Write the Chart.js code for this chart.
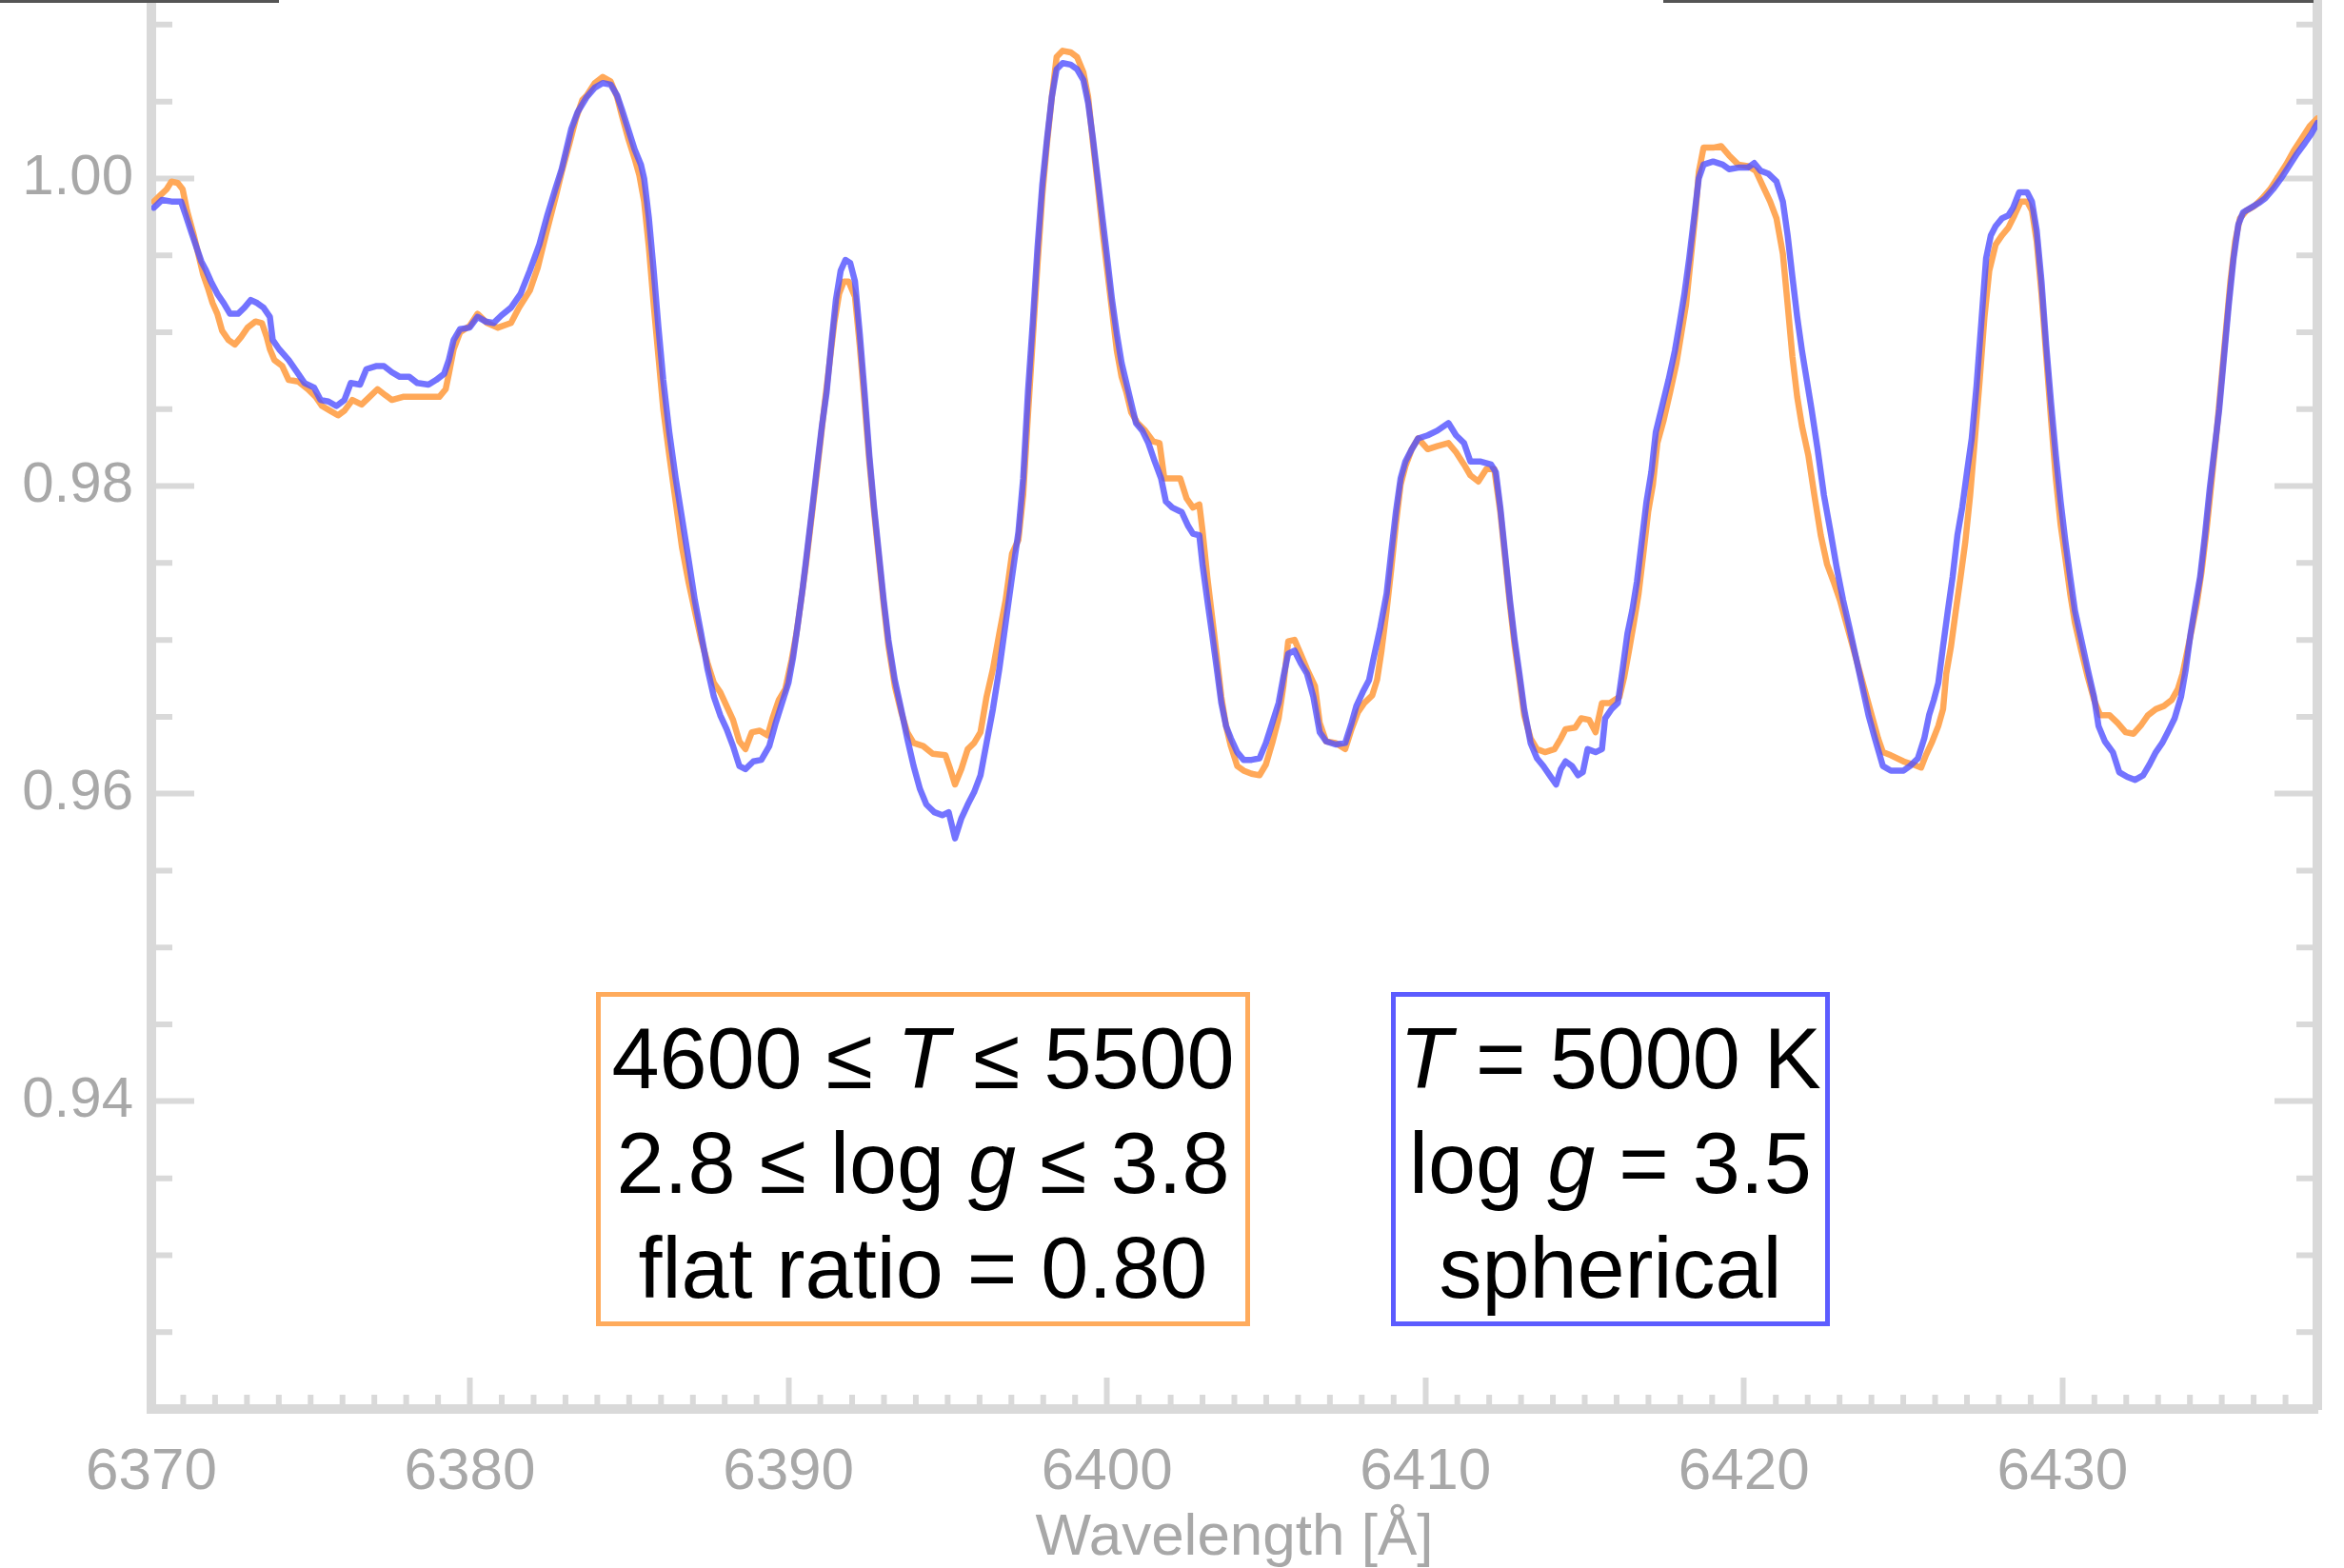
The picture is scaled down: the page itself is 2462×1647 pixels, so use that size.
<!DOCTYPE html>
<html>
<head>
<meta charset="utf-8">
<title>Spectrum 6370-6438 Å</title>
<script src="https://cdn.jsdelivr.net/npm/chart.js@4.4.1/dist/chart.umd.min.js"></script>
<style>
  html, body { margin: 0; padding: 0; background: #fff; }
  #wrap { position: relative; width: 2462px; height: 1647px; overflow: hidden; }
  #spectrum { display: block; }
  .rule { position: absolute; top: 0; height: 3px; background: #555; }
  .key {
    position: absolute; top: 1042px; height: 351px;
    box-sizing: border-box; border: 5px solid; padding-top: 10px;
    font: 90px/110px "Liberation Sans", Arial, sans-serif;
    text-align: center; color: #000; white-space: nowrap; background: #fff;
  }
</style>
</head>
<body>
<div id="wrap">
  <canvas id="spectrum" width="2462" height="1647"></canvas>
  <div class="rule" style="left:0;width:293px"></div>
  <div class="rule" style="left:1747px;width:683px"></div>
  <div class="key" style="left:626px;width:687px;border-color:#ffab5c">4600 ≤ <i>T</i> ≤ 5500<br>2.8 ≤ log <i>g</i> ≤ 3.8<br>flat ratio = 0.80</div>
  <div class="key" style="left:1461px;width:461px;border-color:#5c5cff"><i>T</i> = 5000 K<br>log <i>g</i> = 3.5<br>spherical</div>
</div>
<script>
// tick labels
const waveTicks = [6370, 6380, 6390, 6400, 6410, 6420, 6430];
const fluxTicks = [0.94, 0.96, 0.98, 1.00];

// spherical model, T = 5000 K, log g = 3.5 (blue)
const spherWave = [
  6370.08, 6370.33, 6370.63, 6370.93, 6371.08, 6371.27, 6371.42, 6371.57, 6371.72, 6371.87,
  6372.07, 6372.27, 6372.47, 6372.72, 6372.92, 6373.12, 6373.32, 6373.52, 6373.72, 6373.81,
  6374.01, 6374.31, 6374.61, 6374.81, 6375.11, 6375.31, 6375.56, 6375.81, 6376.06, 6376.26,
  6376.55, 6376.75, 6377.05, 6377.30, 6377.55, 6377.80, 6378.10, 6378.35, 6378.70, 6378.94,
  6379.19, 6379.34, 6379.49, 6379.69, 6379.99, 6380.24, 6380.49, 6380.74, 6380.99, 6381.29,
  6381.59, 6381.88, 6382.18, 6382.43, 6382.68, 6382.88, 6383.03, 6383.18, 6383.38,
  6383.67, 6383.92, 6384.17, 6384.42, 6384.62, 6384.77, 6384.97, 6385.17, 6385.37, 6385.47,
  6385.62, 6385.77, 6385.92, 6386.07, 6386.26, 6386.46, 6386.66, 6386.86, 6387.06, 6387.26,
  6387.46, 6387.66, 6387.86, 6388.06, 6388.26, 6388.46, 6388.65, 6388.90, 6389.15, 6389.40,
  6389.60, 6389.80, 6390.00, 6390.15, 6390.30, 6390.45, 6390.60, 6390.75, 6390.90, 6391.05,
  6391.20, 6391.34, 6391.49, 6391.64, 6391.79, 6391.94, 6392.09, 6392.24, 6392.39, 6392.54,
  6392.69, 6392.84, 6392.99, 6393.14, 6393.34, 6393.54, 6393.73, 6393.93, 6394.13, 6394.33,
  6394.58, 6394.83, 6395.03, 6395.23, 6395.43, 6395.63, 6395.83, 6396.03, 6396.22, 6396.42,
  6396.62, 6396.82, 6397.02, 6397.22,
  6397.37, 6397.52, 6397.67, 6397.82, 6397.97, 6398.12, 6398.27, 6398.42, 6398.61, 6398.86,
  6399.06, 6399.26, 6399.41, 6399.56, 6399.71, 6399.86, 6400.01, 6400.16, 6400.31, 6400.46,
  6400.61, 6400.76, 6400.91, 6401.11, 6401.30, 6401.50, 6401.70, 6401.85, 6402.05, 6402.35,
  6402.55, 6402.70, 6402.90, 6403.00, 6403.15, 6403.30, 6403.45, 6403.59, 6403.74, 6403.89,
  6404.09, 6404.29, 6404.54, 6404.79, 6404.99, 6405.19, 6405.39, 6405.54, 6405.69, 6405.89,
  6406.08, 6406.28, 6406.48, 6406.68, 6406.88, 6407.18, 6407.48, 6407.68, 6407.83, 6408.03,
  6408.23, 6408.38, 6408.58, 6408.78, 6408.92, 6409.07, 6409.22, 6409.37, 6409.57, 6409.77,
  6410.07, 6410.37, 6410.72, 6410.96,
  6411.21, 6411.41, 6411.71, 6412.06, 6412.21, 6412.35, 6412.50, 6412.65, 6412.80, 6412.95,
  6413.10, 6413.30, 6413.50, 6413.70, 6413.90, 6414.10, 6414.25, 6414.40, 6414.60, 6414.79,
  6414.94, 6415.09, 6415.34, 6415.54, 6415.64, 6415.84, 6416.04, 6416.19, 6416.34, 6416.49,
  6416.64, 6416.79, 6416.94, 6417.09, 6417.23, 6417.43, 6417.63, 6417.83, 6417.98, 6418.13,
  6418.28, 6418.43, 6418.58, 6418.73, 6419.03, 6419.33, 6419.53, 6419.82, 6420.12, 6420.32,
  6420.52, 6420.77, 6421.02, 6421.22, 6421.37, 6421.52, 6421.67, 6421.82, 6421.97, 6422.12,
  6422.31, 6422.51, 6422.71, 6422.91, 6423.11, 6423.31, 6423.51, 6423.71, 6423.91, 6424.11,
  6424.36, 6424.61,
  6425.01, 6425.21, 6425.46, 6425.66, 6425.81, 6425.96, 6426.10, 6426.25, 6426.40, 6426.55,
  6426.70, 6426.85, 6427.00, 6427.15, 6427.30, 6427.45, 6427.60, 6427.75, 6427.90, 6428.10,
  6428.30, 6428.45, 6428.64, 6428.89, 6429.04, 6429.19, 6429.34, 6429.49, 6429.64, 6429.79,
  6429.94, 6430.09, 6430.24, 6430.39, 6430.59, 6430.79, 6430.99, 6431.13, 6431.33, 6431.58,
  6431.78, 6432.03, 6432.28, 6432.53, 6432.73, 6432.93, 6433.13, 6433.33, 6433.52, 6433.72,
  6433.87, 6434.02, 6434.17, 6434.32, 6434.47, 6434.62, 6434.77, 6434.92, 6435.07, 6435.22,
  6435.37, 6435.52, 6435.67, 6435.92, 6436.16, 6436.36, 6436.61, 6436.86, 6437.11, 6437.36,
  6437.61, 6437.81, 6438.00
];
const spherFlux = [
  0.9981, 0.9986, 0.9985, 0.9985, 0.9976, 0.9964, 0.9955, 0.9946, 0.9940, 0.9933,
  0.9925, 0.9919, 0.9912, 0.9912, 0.9916, 0.9921, 0.9919, 0.9916, 0.9910, 0.9895,
  0.9889, 0.9882, 0.9873, 0.9867, 0.9864, 0.9856, 0.9855, 0.9852, 0.9856, 0.9867,
  0.9866, 0.9876, 0.9878, 0.9878, 0.9874, 0.9871, 0.9871, 0.9867, 0.9866, 0.9869,
  0.9873, 0.9882, 0.9895, 0.9902, 0.9903, 0.9910, 0.9907, 0.9906, 0.9911, 0.9916,
  0.9925, 0.9940, 0.9957, 0.9976, 0.9993, 1.0006, 1.0019, 1.0032, 1.0043,
  1.0053, 1.0059, 1.0062, 1.0061, 1.0054, 1.0045, 1.0032, 1.0019, 1.0009, 1.0000,
  0.9974, 0.9940, 0.9903, 0.9869, 0.9835, 0.9805, 0.9779, 0.9753, 0.9726, 0.9704,
  0.9681, 0.9663, 0.9651, 0.9642, 0.9631, 0.9618, 0.9616, 0.9621, 0.9622, 0.9631,
  0.9646, 0.9659, 0.9672, 0.9689, 0.9711, 0.9734, 0.9760, 0.9786, 0.9813, 0.9839,
  0.9861, 0.9891, 0.9921, 0.9940, 0.9947, 0.9945, 0.9933, 0.9899, 0.9861, 0.9820,
  0.9786, 0.9756, 0.9726, 0.9700, 0.9674, 0.9655, 0.9636, 0.9618, 0.9603, 0.9593,
  0.9588, 0.9586, 0.9588, 0.9571, 0.9584, 0.9593, 0.9601, 0.9612, 0.9633, 0.9655,
  0.9681, 0.9711, 0.9741, 0.9770,
  0.9805, 0.9861, 0.9906, 0.9955, 0.9996, 1.0026, 1.0053, 1.0071, 1.0075, 1.0074,
  1.0071, 1.0064, 1.0049, 1.0026, 1.0000, 0.9974, 0.9948, 0.9921, 0.9899, 0.9880,
  0.9867, 0.9854, 0.9841, 0.9836, 0.9828, 0.9816, 0.9805, 0.9790, 0.9786, 0.9783,
  0.9774, 0.9769, 0.9768, 0.9749, 0.9726, 0.9704, 0.9681, 0.9659, 0.9644, 0.9636,
  0.9627, 0.9622, 0.9622, 0.9623, 0.9633, 0.9646, 0.9659, 0.9676, 0.9691, 0.9693,
  0.9685, 0.9678, 0.9663, 0.9640, 0.9634, 0.9632, 0.9633, 0.9646, 0.9657, 0.9666,
  0.9674, 0.9689, 0.9708, 0.9730, 0.9756, 0.9783, 0.9805, 0.9816, 0.9824, 0.9831,
  0.9833, 0.9836, 0.9841, 0.9833,
  0.9828, 0.9816, 0.9816, 0.9814, 0.9809, 0.9786, 0.9756, 0.9726, 0.9700, 0.9678,
  0.9655, 0.9633, 0.9623, 0.9618, 0.9612, 0.9606, 0.9616, 0.9621, 0.9618, 0.9612,
  0.9614, 0.9629, 0.9627, 0.9629, 0.9649, 0.9655, 0.9659, 0.9681, 0.9704, 0.9719,
  0.9738, 0.9764, 0.9790, 0.9809, 0.9835, 0.9852, 0.9869, 0.9888, 0.9906, 0.9925,
  0.9948, 0.9974, 1.0000, 1.0009, 1.0011, 1.0009, 1.0006, 1.0007, 1.0007, 1.0010,
  1.0005, 1.0003, 0.9998, 0.9985, 0.9963, 0.9936, 0.9910, 0.9888, 0.9869, 0.9850,
  0.9824, 0.9794, 0.9771, 0.9747, 0.9726, 0.9708, 0.9689, 0.9670, 0.9651, 0.9636,
  0.9618, 0.9615,
  0.9615, 0.9618, 0.9623, 0.9636, 0.9651, 0.9661, 0.9672, 0.9696, 0.9719, 0.9741,
  0.9768, 0.9786, 0.9809, 0.9831, 0.9865, 0.9906, 0.9948, 0.9963, 0.9969, 0.9974,
  0.9976, 0.9981, 0.9991, 0.9991, 0.9985, 0.9966, 0.9933, 0.9891, 0.9854, 0.9820,
  0.9790, 0.9764, 0.9741, 0.9719, 0.9700, 0.9681, 0.9663, 0.9644, 0.9634, 0.9627,
  0.9614, 0.9611, 0.9609, 0.9612, 0.9619, 0.9627, 0.9633, 0.9641, 0.9649, 0.9663,
  0.9681, 0.9704, 0.9723, 0.9741, 0.9768, 0.9798, 0.9824, 0.9850, 0.9884, 0.9918,
  0.9948, 0.9970, 0.9978, 0.9981, 0.9984, 0.9987, 0.9993, 1.0000, 1.0008, 1.0016,
  1.0023, 1.0029, 1.0036
];

// flat-ratio grid, 4600 <= T <= 5500, 2.8 <= log g <= 3.8 (orange)
const rangeWave = [
  6370.08, 6370.28, 6370.48, 6370.63, 6370.83, 6370.98, 6371.12, 6371.32, 6371.47, 6371.62,
  6371.77, 6371.92, 6372.07, 6372.22, 6372.42, 6372.62, 6372.82, 6373.02, 6373.27, 6373.47,
  6373.62, 6373.72, 6373.86, 6374.11, 6374.31, 6374.61, 6374.91, 6375.16, 6375.36, 6375.61,
  6375.86, 6376.06, 6376.31, 6376.60, 6376.85, 6377.10, 6377.35, 6377.55, 6377.90, 6378.30,
  6378.70, 6379.04, 6379.24, 6379.34, 6379.49, 6379.69, 6379.99, 6380.24, 6380.54, 6380.88,
  6381.29, 6381.54, 6381.88, 6382.13, 6382.38, 6382.68, 6382.88, 6383.13, 6383.33, 6383.53,
  6383.67, 6383.92, 6384.17, 6384.42, 6384.62, 6384.77, 6384.97, 6385.17, 6385.32, 6385.47,
  6385.62, 6385.77, 6385.92, 6386.07, 6386.26, 6386.46, 6386.66, 6386.86, 6387.06, 6387.26,
  6387.46, 6387.66, 6387.86, 6388.06, 6388.26, 6388.46, 6388.65, 6388.85, 6389.10, 6389.35,
  6389.50, 6389.70, 6389.90, 6390.10, 6390.25, 6390.40, 6390.55, 6390.70, 6390.85, 6391.00,
  6391.14, 6391.29, 6391.44, 6391.59, 6391.74, 6391.89, 6392.09, 6392.24, 6392.39, 6392.54,
  6392.69, 6392.84, 6392.99, 6393.14, 6393.34, 6393.54, 6393.73, 6393.93, 6394.23, 6394.53,
  6394.93, 6395.08, 6395.23, 6395.43, 6395.63, 6395.83, 6396.03, 6396.22, 6396.42, 6396.62,
  6396.82, 6397.02, 6397.22,
  6397.37, 6397.52, 6397.67, 6397.82, 6397.97, 6398.12, 6398.27, 6398.42, 6398.61, 6398.86,
  6399.06, 6399.26, 6399.41, 6399.56, 6399.71, 6399.86, 6400.01, 6400.16, 6400.31, 6400.46,
  6400.61, 6400.76, 6400.96, 6401.20, 6401.45, 6401.65, 6401.80, 6402.00, 6402.30, 6402.50,
  6402.70, 6402.90, 6403.00, 6403.15, 6403.30, 6403.45, 6403.59, 6403.74, 6403.89, 6404.09,
  6404.29, 6404.54, 6404.79, 6404.99, 6405.19, 6405.39, 6405.54, 6405.69, 6405.89, 6406.08,
  6406.28, 6406.53, 6406.68, 6406.88, 6407.18, 6407.48, 6407.68, 6407.88, 6408.08, 6408.33,
  6408.48, 6408.62, 6408.78, 6408.92, 6409.07, 6409.22, 6409.37, 6409.57, 6409.77, 6410.07,
  6410.37, 6410.72, 6410.96,
  6411.21, 6411.41, 6411.66, 6411.91, 6412.16, 6412.35, 6412.50, 6412.65, 6412.80, 6412.95,
  6413.10, 6413.30, 6413.50, 6413.75, 6414.05, 6414.25, 6414.40, 6414.70, 6414.89, 6415.14,
  6415.34, 6415.54, 6415.79, 6416.09, 6416.24, 6416.39, 6416.54, 6416.69, 6416.84, 6416.99,
  6417.14, 6417.28, 6417.48, 6417.68, 6417.88, 6418.03, 6418.18, 6418.33, 6418.48, 6418.58,
  6418.73, 6419.03, 6419.28, 6419.53, 6419.82, 6420.12, 6420.37, 6420.57, 6420.82, 6421.02,
  6421.22, 6421.37, 6421.52, 6421.67, 6421.82, 6422.02, 6422.21, 6422.41, 6422.61, 6422.81,
  6423.01, 6423.21, 6423.41, 6423.61, 6423.81, 6424.01, 6424.21, 6424.36, 6424.61,
  6425.01, 6425.31, 6425.56, 6425.71, 6425.91, 6426.10, 6426.25, 6426.35, 6426.50, 6426.65,
  6426.80, 6426.95, 6427.10, 6427.25, 6427.40, 6427.55, 6427.70, 6427.90, 6428.10, 6428.30,
  6428.49, 6428.69, 6428.89, 6429.04, 6429.19, 6429.34, 6429.49, 6429.64, 6429.79, 6429.94,
  6430.09, 6430.24, 6430.39, 6430.59, 6430.79, 6430.99, 6431.18, 6431.48, 6431.73, 6431.98,
  6432.23, 6432.48, 6432.68, 6432.93, 6433.18, 6433.43, 6433.62, 6433.77, 6433.92, 6434.07,
  6434.22, 6434.37, 6434.52, 6434.67, 6434.82, 6434.97, 6435.12, 6435.27, 6435.42, 6435.57,
  6435.77, 6436.02, 6436.27, 6436.52, 6436.77, 6437.02, 6437.26, 6437.51, 6437.76, 6438.00
];
const rangeFlux = [
  0.9985, 0.9989, 0.9993, 0.9998, 0.9997, 0.9993, 0.9979, 0.9964, 0.9951, 0.9938,
  0.9929, 0.9919, 0.9912, 0.9901, 0.9895, 0.9892, 0.9897, 0.9903, 0.9907, 0.9906,
  0.9897, 0.9889, 0.9882, 0.9878, 0.9869, 0.9868, 0.9863, 0.9858, 0.9852, 0.9849,
  0.9846, 0.9849, 0.9856, 0.9853, 0.9858, 0.9863, 0.9859, 0.9856, 0.9858, 0.9858,
  0.9858, 0.9858, 0.9863, 0.9873, 0.9889, 0.9900, 0.9904, 0.9912, 0.9906, 0.9903,
  0.9906, 0.9916, 0.9927, 0.9942, 0.9963, 0.9987, 1.0004, 1.0023, 1.0039, 1.0051,
  1.0054, 1.0062, 1.0066, 1.0063, 1.0053, 1.0041, 1.0026, 1.0013, 1.0002, 0.9985,
  0.9955, 0.9918, 0.9884, 0.9850, 0.9820, 0.9790, 0.9760, 0.9738, 0.9719, 0.9700,
  0.9685, 0.9672, 0.9666, 0.9657, 0.9648, 0.9634, 0.9629, 0.9640, 0.9641, 0.9638,
  0.9649, 0.9661, 0.9668, 0.9687, 0.9704, 0.9726, 0.9749, 0.9775, 0.9801, 0.9828,
  0.9854, 0.9880, 0.9906, 0.9925, 0.9933, 0.9933, 0.9923, 0.9891, 0.9854, 0.9816,
  0.9783, 0.9753, 0.9723, 0.9696, 0.9670, 0.9653, 0.9640, 0.9633, 0.9631, 0.9626,
  0.9625, 0.9616, 0.9606, 0.9616, 0.9629, 0.9633, 0.9640, 0.9663, 0.9681, 0.9704,
  0.9726, 0.9756, 0.9765,
  0.9794, 0.9846, 0.9895, 0.9944, 0.9989, 1.0023, 1.0053, 1.0079, 1.0083, 1.0082,
  1.0079, 1.0069, 1.0053, 1.0023, 0.9996, 0.9966, 0.9940, 0.9914, 0.9888, 0.9871,
  0.9861, 0.9848, 0.9841, 0.9836, 0.9829, 0.9828, 0.9805, 0.9805, 0.9805, 0.9792,
  0.9786, 0.9788, 0.9771, 0.9741, 0.9715, 0.9689, 0.9663, 0.9644, 0.9631, 0.9618,
  0.9615, 0.9613, 0.9612, 0.9619, 0.9633, 0.9649, 0.9670, 0.9699, 0.9700, 0.9691,
  0.9681, 0.9670, 0.9646, 0.9634, 0.9633, 0.9629, 0.9642, 0.9653, 0.9659, 0.9664,
  0.9674, 0.9693, 0.9719, 0.9745, 0.9775, 0.9801, 0.9813, 0.9824, 0.9831, 0.9824,
  0.9826, 0.9828, 0.9822,
  0.9814, 0.9807, 0.9803, 0.9811, 0.9811, 0.9783, 0.9753, 0.9723, 0.9696, 0.9674,
  0.9651, 0.9636, 0.9629, 0.9627, 0.9629, 0.9636, 0.9642, 0.9643, 0.9649, 0.9648,
  0.9640, 0.9659, 0.9659, 0.9663, 0.9676, 0.9693, 0.9711, 0.9730, 0.9756, 0.9783,
  0.9801, 0.9828, 0.9843, 0.9861, 0.9880, 0.9899, 0.9918, 0.9948, 0.9978, 1.0004,
  1.0020, 1.0020, 1.0021, 1.0015, 1.0009, 1.0008, 1.0005, 0.9996, 0.9985, 0.9974,
  0.9951, 0.9918, 0.9884, 0.9858, 0.9839, 0.9820, 0.9794, 0.9768, 0.9749, 0.9738,
  0.9726, 0.9711, 0.9696, 0.9681, 0.9666, 0.9651, 0.9636, 0.9627, 0.9625,
  0.9621, 0.9619, 0.9617, 0.9625, 0.9634, 0.9644, 0.9655, 0.9678, 0.9696, 0.9719,
  0.9741, 0.9764, 0.9794, 0.9831, 0.9869, 0.9910, 0.9940, 0.9957, 0.9963, 0.9968,
  0.9976, 0.9985, 0.9985, 0.9979, 0.9959, 0.9925, 0.9884, 0.9843, 0.9805, 0.9775,
  0.9753, 0.9730, 0.9711, 0.9693, 0.9676, 0.9661, 0.9651, 0.9651, 0.9646, 0.9640,
  0.9639, 0.9645, 0.9651, 0.9655, 0.9657, 0.9661, 0.9668, 0.9678, 0.9693, 0.9708,
  0.9724, 0.9745, 0.9771, 0.9801, 0.9831, 0.9865, 0.9899, 0.9933, 0.9959, 0.9974,
  0.9979, 0.9982, 0.9987, 0.9993, 1.0001, 1.0009, 1.0018, 1.0026, 1.0034, 1.0039
];

const axisGrey = '#d9d9d9';
const labelGrey = '#a8a8a8';

const toPoints = (wave, flux) => wave.map((w, i) => ({ x: w, y: flux[i] }));
const setTicks = list => scale => { scale.ticks = list.map(v => ({ value: v })); };
// fixed axis boxes so the plot frame runs to the top edge of the canvas
const fixWidth = w => s => { s.width = w; s.paddingTop = 0; s.paddingBottom = 0; };

// short inward ticks between the labelled ones
const minorTicks = {
  id: 'minorTicks',
  beforeDatasetsDraw(chart) {
    const { ctx, chartArea: area, scales: { x, y } } = chart;
    ctx.save();
    ctx.strokeStyle = axisGrey;
    ctx.lineWidth = 6;
    ctx.beginPath();
    for (let w = 6371; w < 6438; w++) {
      if (w % 10 === 0) continue;
      const px = x.getPixelForValue(w);
      ctx.moveTo(px, area.bottom);
      ctx.lineTo(px, area.bottom - 15);
    }
    for (let k = 185; k <= 202; k++) {
      if (k % 4 === 0) continue;
      const py = y.getPixelForValue(k * 0.005);
      ctx.moveTo(area.left, py);
      ctx.lineTo(area.left + 22, py);
      ctx.moveTo(area.right, py);
      ctx.lineTo(area.right - 22, py);
    }
    ctx.stroke();
    ctx.restore();
  }
};

Chart.defaults.font.family = '"Liberation Sans", Arial, sans-serif';

new Chart(document.getElementById('spectrum'), {
  type: 'line',
  data: {
    datasets: [
      {
        label: 'T = 5000 K, log g = 3.5, spherical',
        data: toPoints(spherWave, spherFlux),
        borderColor: 'rgba(80, 80, 255, 0.8)',
        order: 0
      },
      {
        label: '4600 ≤ T ≤ 5500, 2.8 ≤ log g ≤ 3.8, flat ratio = 0.80',
        data: toPoints(rangeWave, rangeFlux),
        borderColor: 'rgb(255, 168, 88)',
        order: 1
      }
    ]
  },
  options: {
    responsive: false,
    animation: false,
    layout: { padding: 0, autoPadding: false },
    elements: {
      point: { radius: 0 },
      line: { borderWidth: 6.5, tension: 0, borderJoinStyle: 'round', borderCapStyle: 'round' }
    },
    plugins: {
      legend: { display: false },
      tooltip: { enabled: false }
    },
    scales: {
      x: {
        type: 'linear',
        position: 'bottom',
        min: 6370,
        max: 6438,
        afterFit: s => { s.height = 167; s.paddingLeft = 0; s.paddingRight = 0; },
        afterBuildTicks: setTicks(waveTicks),
        ticks: {
          color: labelGrey,
          font: { size: 62 },
          padding: 63,
          maxRotation: 0,
          autoSkip: false,
          callback: v => String(v)
        },
        grid: { drawOnChartArea: false, tickLength: -33, tickWidth: 6, tickColor: axisGrey },
        border: { color: axisGrey, width: 10 },
        title: {
          display: true,
          text: 'Wavelength [Å]',
          color: labelGrey,
          font: { size: 62, lineHeight: 1 },
          padding: 0
        }
      },
      y: {
        position: 'left',
        min: 0.92,
        max: 1.0116,
        afterFit: fixWidth(159),
        afterBuildTicks: setTicks(fluxTicks),
        ticks: {
          color: labelGrey,
          font: { size: 60 },
          padding: 64,
          callback: v => v.toFixed(2)
        },
        grid: { drawOnChartArea: false, tickLength: -45, tickWidth: 6, tickColor: axisGrey },
        border: { color: axisGrey, width: 10 }
      },
      y2: {
        position: 'right',
        min: 0.92,
        max: 1.0116,
        afterFit: fixWidth(28),
        afterBuildTicks: setTicks(fluxTicks),
        ticks: { display: false },
        grid: { drawOnChartArea: false, tickLength: -45, tickWidth: 6, tickColor: axisGrey },
        border: { color: axisGrey, width: 10 }
      }
    }
  },
  plugins: [minorTicks]
});
</script>
</body>
</html>
